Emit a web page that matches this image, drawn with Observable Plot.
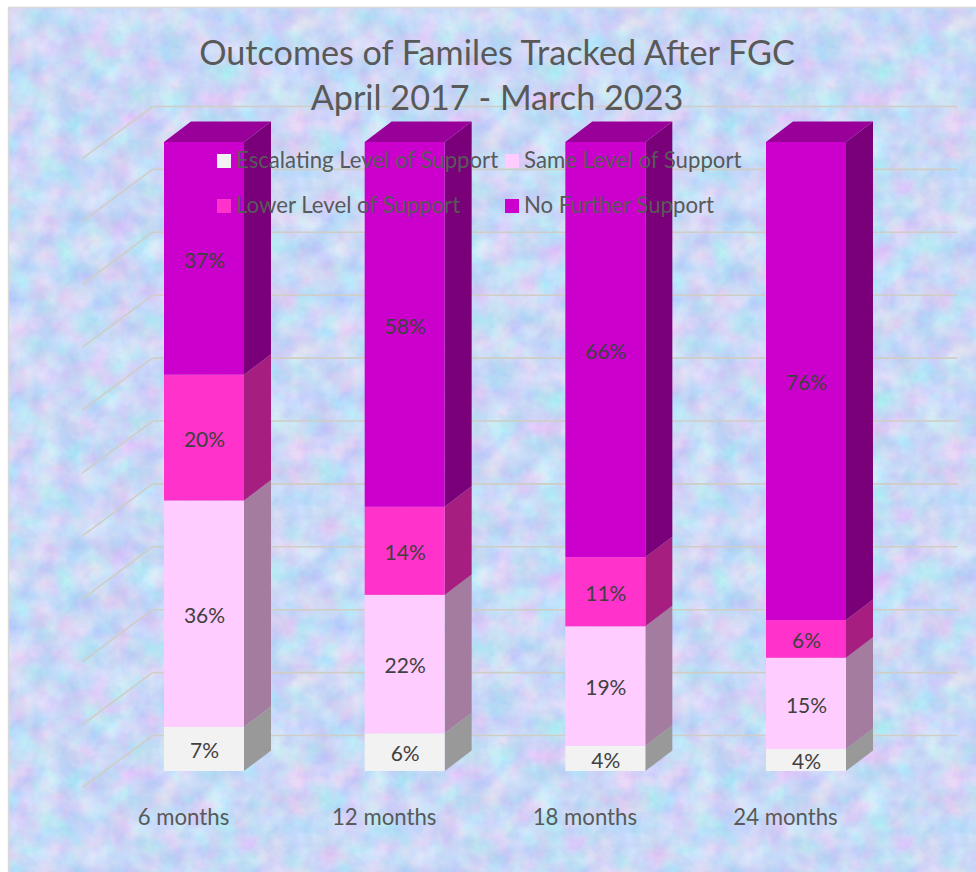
<!DOCTYPE html>
<html>
<head>
<meta charset="utf-8">
<script src="https://cdn.jsdelivr.net/npm/d3@7"></script>
<script src="https://cdn.jsdelivr.net/npm/@observablehq/plot@0.6"></script>
<style>
  html, body { margin: 0; padding: 0; background: #fff; }
  #page { position: relative; width: 976px; height: 872px; overflow: hidden; font-family: Lato, "Open Sans", sans-serif; color: #595959; }
  #bg, #chart { position: absolute; left: 0; top: 0; }
  #chart svg { display: block; }
  .title { position: absolute; left: 0; width: 994px; text-align: center; font-size: 34.2px; line-height: 44px; white-space: nowrap; }
  .sw { position: absolute; width: 14px; height: 14px; }
  .lg { position: absolute; font-size: 22.2px; line-height: 26px; white-space: nowrap; }
</style>
</head>
<body>
<div id="page">
  <svg id="bg" width="976" height="872">
    <defs>
      <filter id="tex" x="0" y="0" width="100%" height="100%" color-interpolation-filters="sRGB">
        <feTurbulence type="fractalNoise" baseFrequency="0.04" numOctaves="5" seed="11" stitchTiles="stitch"/>
        <feColorMatrix type="matrix" values="0.32 0 0 0 0.63  0 0.24 0 0 0.73  0 0 0.08 0 0.925  0 0 0 0 1"/>
      </filter>
      <pattern id="tile" x="8" y="8" width="328" height="328" patternUnits="userSpaceOnUse">
        <rect width="328" height="328" filter="url(#tex)"/>
      </pattern>
    </defs>
    <rect x="8.5" y="7.5" width="975" height="872" fill="url(#tile)" stroke="#d9d9d9" stroke-width="1.5"/>
  </svg>
  <div id="chart"></div>
  <div class="title" style="top:30px">Outcomes of Familes Tracked After FGC</div>
  <div class="title" style="top:75px">April 2017 - March 2023</div>
  <div id="legend"></div>
</div>
<script>
const categories = ["6 months", "12 months", "18 months", "24 months"];
const seriesNames = ["Escalating Level of Support", "Same Level of Support", "Lower Level of Support", "No Further Support"];
const escalating = [7, 6, 4, 3.5];
const same = [36, 22, 19, 14.5];
const lower = [20, 14, 11, 6];
const noFurther = [37, 58, 66, 76];
const frontColors = ["#f2f2f2", "#ffccff", "#ff33cc", "#cc00cc"];
const sideColors = ["#999999", "#a37c9f", "#a61f80", "#7a007a"];
const topColor = "#990099";
const gridValues = d3.range(0, 101, 10);

const seriesValues = [escalating, same, lower, noFurther];
const barWidth = 0.3987;              // in category units
const depthX = 0.1345, depthY = 3.26; // the bars' 3-D depth
const wallX1 = -0.4086, wallX2 = -0.06, wallX3 = 3.95; // floor and back wall
const wallFront = -2.54, wallBack = 5.72;

const rows = [], sides = [], tops = [];
categories.forEach((c, i) => {
  let base = 0;
  seriesValues.forEach((vals, s) => {
    const y1 = base, y2 = base + vals[i];
    base = y2;
    rows.push({x1: i, x2: i + barWidth, y1, y2, fill: frontColors[s], label: Math.round(vals[i]) + "%"});
    const id = `${i}-${s}`, xr = i + barWidth;
    sides.push({id, x: xr, y1, y2, fill: sideColors[s]});
    sides.push({id, x: xr + depthX, y1: y1 + depthY, y2: y2 + depthY, fill: sideColors[s]});
  });
  const xl = i, xr = i + barWidth;
  [[xl, base, base], [xl + depthX, base, base + depthY], [xr, base, base + depthY], [xr + depthX, base + depthY, base + depthY]]
    .forEach(([x, y1, y2]) => tops.push({id: i, x, y1, y2}));
});

const chart = Plot.plot({
  width: 976,
  height: 872,
  margin: 0,
  style: {background: "transparent", overflow: "visible"},
  x: {domain: [0, 3], range: [164, 766], axis: null},
  y: {domain: [0, 100], range: [771, 142], axis: null},
  color: {type: "identity"},
  marks: [
    Plot.link(gridValues, {x1: wallX1, x2: wallX2, y1: d => d + wallFront, y2: d => d + wallBack, stroke: "#cfcdc6", strokeWidth: 1.6}),
    Plot.link(gridValues, {x1: wallX2, x2: wallX3, y1: d => d + wallBack, y2: d => d + wallBack, stroke: "#cfcdc6", strokeWidth: 1.6}),
    Plot.area(sides, {x1: "x", y1: "y1", y2: "y2", z: "id", fill: "fill"}),
    Plot.area(tops, {x1: "x", y1: "y1", y2: "y2", z: "id", fill: () => topColor}),
    Plot.rect(rows, {x1: "x1", x2: "x2", y1: "y1", y2: "y2", fill: "fill"}),
    Plot.text(rows, {
      x: d => (d.x1 + d.x2) / 2, y: d => (d.y1 + d.y2) / 2, text: "label",
      fill: "#404040", fontSize: 21, fontFamily: "Lato", dy: 2
    }),
    Plot.text(categories, {
      x: (d, i) => i + barWidth / 2, y: () => 0, text: d => d,
      dx: -21, dy: 46, fill: "#595959", fontSize: 22.2, fontFamily: "Lato"
    })
  ]
});
document.getElementById("chart").append(chart);

const legendPlaces = [[217, 154], [505, 154], [217, 199], [505, 199]];
const legend = document.getElementById("legend");
seriesNames.forEach((name, i) => {
  const [x, y] = legendPlaces[i];
  const sw = document.createElement("div");
  sw.className = "sw";
  sw.style.cssText = `left:${x}px;top:${y}px;background:${frontColors[i]}`;
  const t = document.createElement("div");
  t.className = "lg";
  t.style.cssText = `left:${x + 19}px;top:${y - 7}px`;
  t.textContent = name;
  legend.append(sw, t);
});
</script>
</body>
</html>
